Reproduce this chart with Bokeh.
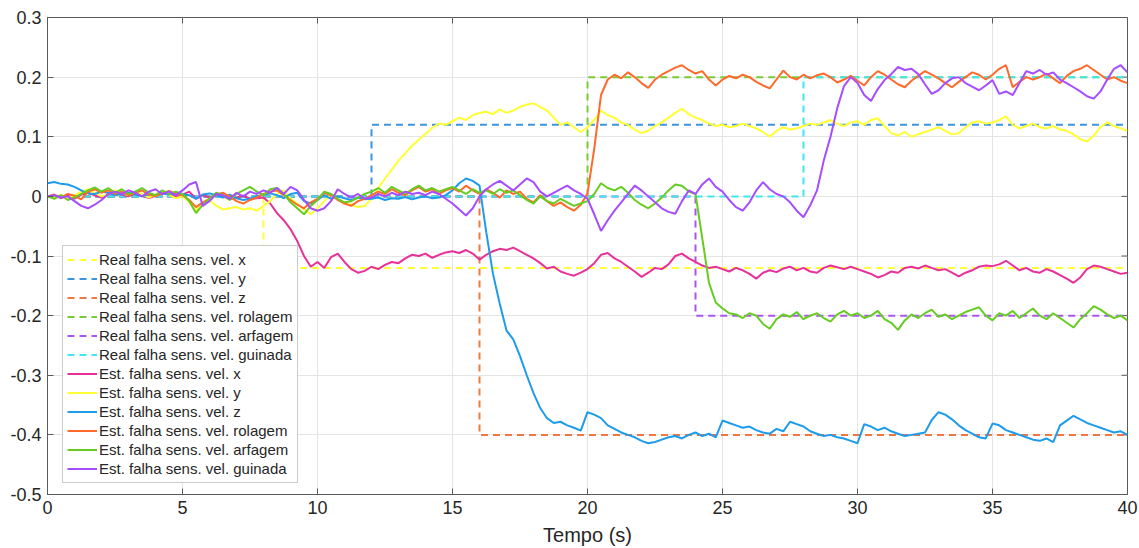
import numpy as np
from bokeh.plotting import figure
from bokeh.models import (FixedTicker, CustomJSTickFormatter, Legend, LegendItem, Range1d)
from bokeh.embed import file_html
from bokeh.resources import INLINE

# ---------------- data ----------------
t_est = np.linspace(0, 40, 161)  # sampling grid, 0.25 s

est_x = [
    0.000, 0.002, -0.003, 0.001, -0.004, 0.003, 0.006, 0.002, -0.002, 0.004, 0.008, 0.003, 0.000, 0.005, 0.002, -0.003, 0.001, 0.006, 0.004, 0.000,
    0.003, 0.008, -0.004, 0.002, -0.002, 0.003, 0.000, -0.005, -0.002, 0.001, -0.004, -0.003, -0.002, -0.012, -0.028, -0.040, -0.055, -0.075, -0.100, -0.118,
    -0.110, -0.120, -0.102, -0.096, -0.110, -0.122, -0.128, -0.125, -0.118, -0.122, -0.115, -0.110, -0.112, -0.104, -0.098, -0.100, -0.096, -0.103, -0.098, -0.094,
    -0.092, -0.095, -0.090, -0.096, -0.106, -0.098, -0.092, -0.088, -0.090, -0.086, -0.092, -0.098, -0.104, -0.112, -0.121, -0.118, -0.126, -0.130, -0.133, -0.128,
    -0.122, -0.112, -0.098, -0.095, -0.104, -0.110, -0.118, -0.126, -0.135, -0.128, -0.120, -0.122, -0.114, -0.100, -0.096, -0.104, -0.110, -0.116, -0.120, -0.118,
    -0.122, -0.126, -0.120, -0.124, -0.130, -0.138, -0.128, -0.124, -0.127, -0.121, -0.118, -0.124, -0.120, -0.126, -0.128, -0.120, -0.116, -0.119, -0.122, -0.118,
    -0.122, -0.126, -0.130, -0.136, -0.132, -0.126, -0.128, -0.120, -0.118, -0.121, -0.116, -0.120, -0.124, -0.122, -0.128, -0.134, -0.128, -0.124, -0.118, -0.116,
    -0.117, -0.114, -0.108, -0.116, -0.124, -0.120, -0.126, -0.128, -0.122, -0.126, -0.132, -0.138, -0.145, -0.136, -0.122, -0.116, -0.118, -0.122, -0.126, -0.130,
    -0.128,
]

est_y = [
    0.000, -0.002, 0.003, -0.004, 0.002, 0.008, 0.012, 0.006, 0.000, 0.004, 0.010, 0.006, 0.002, 0.008, 0.004, -0.002, 0.003, 0.007, 0.002, -0.003,
    0.000, -0.010, -0.024, -0.012, -0.006, -0.016, -0.022, -0.020, -0.018, -0.022, -0.020, -0.024, -0.016, -0.008, 0.004, 0.010, -0.004, -0.012, -0.022, -0.030,
    -0.020, -0.008, 0.004, -0.006, -0.010, -0.014, -0.018, -0.016, -0.004, 0.014, 0.030, 0.045, 0.060, 0.072, 0.085, 0.095, 0.105, 0.115, 0.122, 0.120,
    0.126, 0.132, 0.128, 0.136, 0.140, 0.142, 0.138, 0.146, 0.140, 0.144, 0.150, 0.154, 0.156, 0.150, 0.144, 0.132, 0.120, 0.124, 0.116, 0.108,
    0.116, 0.128, 0.144, 0.136, 0.132, 0.124, 0.120, 0.112, 0.106, 0.110, 0.118, 0.124, 0.132, 0.140, 0.147, 0.138, 0.132, 0.128, 0.122, 0.118,
    0.120, 0.116, 0.118, 0.122, 0.118, 0.114, 0.108, 0.100, 0.110, 0.116, 0.112, 0.114, 0.118, 0.122, 0.120, 0.124, 0.128, 0.122, 0.118, 0.124,
    0.126, 0.120, 0.128, 0.131, 0.118, 0.106, 0.102, 0.108, 0.100, 0.104, 0.108, 0.112, 0.116, 0.110, 0.104, 0.106, 0.116, 0.124, 0.126, 0.122,
    0.124, 0.128, 0.134, 0.120, 0.114, 0.118, 0.122, 0.116, 0.114, 0.118, 0.112, 0.110, 0.104, 0.096, 0.092, 0.102, 0.116, 0.124, 0.118, 0.114,
    0.110,
]

est_z = [
    0.022, 0.024, 0.021, 0.020, 0.016, 0.010, 0.005, 0.004, 0.008, 0.006, 0.002, 0.004, 0.006, 0.003, 0.000, 0.004, 0.002, 0.005, 0.003, 0.006,
    0.004, 0.002, -0.004, 0.003, 0.005, 0.002, -0.002, 0.003, -0.003, -0.006, -0.004, 0.000, 0.003, 0.005, 0.002, -0.003, 0.004, 0.006, -0.008, -0.012,
    -0.006, 0.002, -0.004, 0.000, -0.003, -0.006, -0.002, -0.005, -0.004, -0.002, -0.006, -0.003, -0.004, -0.001, -0.005, -0.002, 0.000, -0.003, -0.002, 0.002,
    0.010, 0.022, 0.030, 0.026, 0.018, -0.060, -0.130, -0.180, -0.225, -0.240, -0.268, -0.300, -0.330, -0.355, -0.372, -0.380, -0.378, -0.384, -0.388, -0.393,
    -0.362, -0.366, -0.372, -0.384, -0.390, -0.396, -0.400, -0.404, -0.410, -0.414, -0.412, -0.408, -0.404, -0.402, -0.406, -0.400, -0.396, -0.402, -0.398, -0.404,
    -0.376, -0.380, -0.384, -0.388, -0.386, -0.392, -0.396, -0.398, -0.390, -0.394, -0.378, -0.382, -0.386, -0.394, -0.398, -0.402, -0.400, -0.404, -0.406, -0.410,
    -0.414, -0.382, -0.386, -0.392, -0.388, -0.394, -0.398, -0.402, -0.400, -0.398, -0.396, -0.375, -0.362, -0.366, -0.374, -0.384, -0.392, -0.398, -0.404, -0.406,
    -0.381, -0.384, -0.392, -0.396, -0.400, -0.404, -0.408, -0.410, -0.406, -0.412, -0.384, -0.376, -0.368, -0.374, -0.380, -0.384, -0.388, -0.392, -0.396, -0.394,
    -0.400,
]

est_rolagem = [
    0.000, 0.003, -0.002, 0.004, 0.001, -0.005, 0.008, 0.012, 0.006, 0.010, 0.004, 0.008, 0.002, 0.006, 0.010, 0.003, 0.000, 0.005, 0.009, 0.004,
    0.002, -0.006, -0.018, -0.010, -0.004, 0.003, 0.006, 0.000, -0.008, -0.012, -0.006, -0.002, 0.004, 0.008, 0.010, 0.002, -0.006, -0.014, -0.020, -0.010,
    -0.004, 0.006, 0.002, -0.006, -0.012, -0.016, -0.008, -0.004, 0.002, 0.008, 0.004, 0.012, 0.006, 0.002, 0.010, 0.016, 0.008, 0.012, 0.004, 0.010,
    0.014, 0.008, 0.018, 0.010, 0.004, 0.012, 0.006, -0.002, 0.010, 0.004, 0.008, -0.004, -0.010, 0.002, -0.008, -0.016, -0.010, -0.018, -0.024, -0.014,
    0.005, 0.080, 0.170, 0.196, 0.204, 0.198, 0.208, 0.200, 0.190, 0.182, 0.196, 0.204, 0.210, 0.216, 0.220, 0.212, 0.206, 0.210, 0.196, 0.186,
    0.196, 0.202, 0.198, 0.204, 0.200, 0.192, 0.186, 0.181, 0.196, 0.211, 0.200, 0.196, 0.204, 0.198, 0.203, 0.206, 0.200, 0.191, 0.196, 0.202,
    0.194, 0.186, 0.200, 0.210, 0.204, 0.196, 0.188, 0.183, 0.194, 0.202, 0.210, 0.204, 0.198, 0.190, 0.183, 0.192, 0.200, 0.208, 0.204, 0.196,
    0.204, 0.214, 0.220, 0.183, 0.192, 0.200, 0.196, 0.200, 0.206, 0.198, 0.190, 0.202, 0.210, 0.214, 0.220, 0.212, 0.204, 0.196, 0.200, 0.194,
    0.190,
]

est_arfagem = [
    0.000, -0.004, 0.002, -0.006, -0.002, 0.004, 0.010, 0.015, 0.008, 0.014, 0.006, 0.012, 0.004, 0.008, 0.014, 0.006, 0.002, 0.010, 0.004, 0.008,
    0.004, -0.008, -0.028, -0.014, -0.004, 0.006, 0.002, -0.006, 0.004, 0.010, 0.016, 0.008, 0.002, 0.012, 0.014, 0.004, -0.010, -0.020, -0.030, -0.016,
    -0.006, 0.008, 0.004, -0.004, -0.010, -0.008, -0.002, 0.004, 0.008, 0.014, 0.006, 0.016, 0.010, 0.004, 0.012, 0.018, 0.010, 0.014, 0.008, 0.012,
    0.016, 0.010, 0.004, 0.012, 0.006, 0.010, 0.004, 0.012, 0.006, 0.010, 0.002, -0.006, -0.012, 0.000, -0.008, -0.012, -0.004, -0.010, -0.016, -0.012,
    -0.008, 0.004, 0.022, 0.014, 0.010, 0.016, 0.006, -0.006, -0.014, -0.020, -0.012, -0.002, 0.010, 0.020, 0.018, 0.008, 0.004, -0.070, -0.145, -0.178,
    -0.188, -0.196, -0.198, -0.204, -0.196, -0.200, -0.214, -0.222, -0.206, -0.198, -0.202, -0.194, -0.206, -0.200, -0.196, -0.204, -0.210, -0.198, -0.192, -0.200,
    -0.196, -0.204, -0.200, -0.192, -0.206, -0.212, -0.224, -0.208, -0.198, -0.204, -0.196, -0.190, -0.202, -0.198, -0.206, -0.200, -0.194, -0.190, -0.186, -0.200,
    -0.208, -0.196, -0.200, -0.192, -0.204, -0.196, -0.188, -0.200, -0.206, -0.196, -0.204, -0.212, -0.220, -0.206, -0.196, -0.184, -0.190, -0.198, -0.204, -0.200,
    -0.208,
]

est_guinada = [
    0.000, 0.002, -0.002, 0.000, -0.008, -0.016, -0.020, -0.014, -0.006, 0.004, 0.008, 0.004, 0.010, 0.006, 0.000, 0.008, 0.012, 0.004, 0.008, 0.002,
    0.010, 0.020, 0.024, -0.016, -0.008, 0.004, 0.002, -0.004, 0.006, 0.000, 0.008, 0.004, 0.010, 0.006, 0.014, 0.004, 0.016, 0.010, -0.006, -0.020,
    -0.024, -0.020, -0.008, 0.012, 0.004, -0.002, 0.004, -0.004, -0.002, 0.004, 0.000, 0.006, 0.002, 0.008, 0.004, 0.006, 0.002, 0.008, 0.004, -0.004,
    -0.012, -0.022, -0.032, -0.020, 0.000, 0.012, 0.020, 0.026, 0.018, 0.010, 0.020, 0.030, 0.024, 0.008, 0.000, 0.006, 0.012, 0.018, 0.010, 0.004,
    -0.004, -0.030, -0.058, -0.040, -0.024, -0.010, 0.004, 0.018, 0.010, 0.000, -0.010, -0.020, -0.026, -0.029, -0.008, 0.010, 0.004, 0.020, 0.030, 0.016,
    0.008, -0.006, -0.018, -0.024, -0.010, 0.010, 0.024, 0.012, 0.004, 0.000, -0.010, -0.024, -0.035, -0.015, 0.010, 0.060, 0.100, 0.148, 0.185, 0.200,
    0.190, 0.170, 0.160, 0.180, 0.195, 0.205, 0.217, 0.212, 0.214, 0.205, 0.188, 0.172, 0.178, 0.190, 0.198, 0.200, 0.190, 0.184, 0.178, 0.186,
    0.195, 0.172, 0.176, 0.170, 0.190, 0.210, 0.206, 0.212, 0.204, 0.208, 0.196, 0.190, 0.183, 0.176, 0.168, 0.164, 0.176, 0.196, 0.214, 0.220,
    0.208,
]

fault_times = [8, 12, 16, 20, 24, 28]
fault_values = [-0.12, 0.12, -0.4, 0.2, -0.2, 0.2]

real_labels = ["Real falha sens. vel. x", "Real falha sens. vel. y", "Real falha sens. vel. z",
               "Real falha sens. vel. rolagem", "Real falha sens. vel. arfagem",
               "Real falha sens. vel. guinada"]
est_labels = ["Est. falha sens. vel. x", "Est. falha sens. vel. y", "Est. falha sens. vel. z",
              "Est. falha sens. vel. rolagem", "Est. falha sens. vel. arfagem",
              "Est. falha sens. vel. guinada"]

real_colors = ["#FFFF33", "#3A96E0", "#EE7744", "#77CC33", "#AA55EE", "#3FE8F0"]
est_colors = ["#E8309A", "#FFFF33", "#1E9BEB", "#FF6A2B", "#66CC22", "#A64DFF"]

x_ticks = [0, 5, 10, 15, 20, 25, 30, 35, 40]
y_ticks = [-0.5, -0.4, -0.3, -0.2, -0.1, 0.0, 0.1, 0.2, 0.3]

# ---------------- figure ----------------
FONT = "Liberation Sans"
TXT = "#262626"
AX = "#5a5a5a"
X0, X1, Y0, Y1 = 0, 40, -0.5, 0.3

p = figure(width=1139, height=548, output_backend="svg", toolbar_location=None,
           x_range=Range1d(X0, X1), y_range=Range1d(Y0, Y1),
           min_border_left=47, min_border_right=12, min_border_top=17, min_border_bottom=54)
p.background_fill_color = "white"
p.border_fill_color = "white"
p.outline_line_color = AX
p.outline_line_width = 1

fmt = CustomJSTickFormatter(code="return (Math.round(tick*10)/10).toString();")

p.xaxis.ticker = FixedTicker(ticks=x_ticks)
p.yaxis.ticker = FixedTicker(ticks=y_ticks)
p.yaxis.formatter = fmt
for ax in (p.xaxis[0], p.yaxis[0]):
    ax.major_tick_in = 6
    ax.major_tick_out = 0
    ax.minor_tick_in = 0
    ax.minor_tick_out = 0
    ax.axis_line_color = AX
    ax.major_tick_line_color = AX
    ax.major_label_text_font = FONT
    ax.major_label_text_font_size = "18px"
    ax.major_label_text_color = TXT
    ax.major_label_standoff = 6
p.xaxis.axis_label = "Tempo (s)"
p.xaxis.axis_label_text_font = FONT
p.xaxis.axis_label_text_font_size = "20px"
p.xaxis.axis_label_text_font_style = "normal"
p.xaxis.axis_label_text_color = TXT
p.xaxis.axis_label_standoff = 7

p.xgrid.ticker = FixedTicker(ticks=x_ticks)
p.ygrid.ticker = FixedTicker(ticks=y_ticks)
p.grid.grid_line_color = "#e4e4e4"
p.grid.grid_line_width = 1

# inward ticks on the right and top edges (MATLAB box style)
dx = (X1 - X0) * 6 / 1080
dy = (Y1 - Y0) * 6 / 477
p.segment(x0=[X1] * len(y_ticks), y0=y_ticks, x1=[X1 - dx] * len(y_ticks), y1=y_ticks,
          line_color=AX, line_width=1)
p.segment(x0=x_ticks, y0=[Y1] * len(x_ticks), x1=x_ticks, y1=[Y1 - dy] * len(x_ticks),
          line_color=AX, line_width=1)

items = []
for tf, vf, col, lab in zip(fault_times, fault_values, real_colors, real_labels):
    r = p.line([X0, tf, tf, X1], [0, 0, vf, vf], line_color=col, line_width=2,
               line_dash="7 5")
    items.append(LegendItem(label=lab, renderers=[r]))

for ser, col, lab in zip([est_x, est_y, est_z, est_rolagem, est_arfagem, est_guinada],
                         est_colors, est_labels):
    r = p.line(t_est, ser, line_color=col, line_width=2)
    items.append(LegendItem(label=lab, renderers=[r]))

legend = Legend(items=items, location=(15, 11))
legend.label_text_font = FONT
legend.label_text_font_size = "15px"
legend.label_text_color = TXT
legend.glyph_width = 30
legend.glyph_height = 19
legend.label_height = 19
legend.label_standoff = 2
legend.spacing = 0
legend.padding = 4
legend.margin = 0
legend.border_line_color = "#999999"
legend.border_line_width = 1
legend.background_fill_color = "white"
legend.background_fill_alpha = 1
p.add_layout(legend)

open("out.html", "w").write(file_html(p, INLINE))
